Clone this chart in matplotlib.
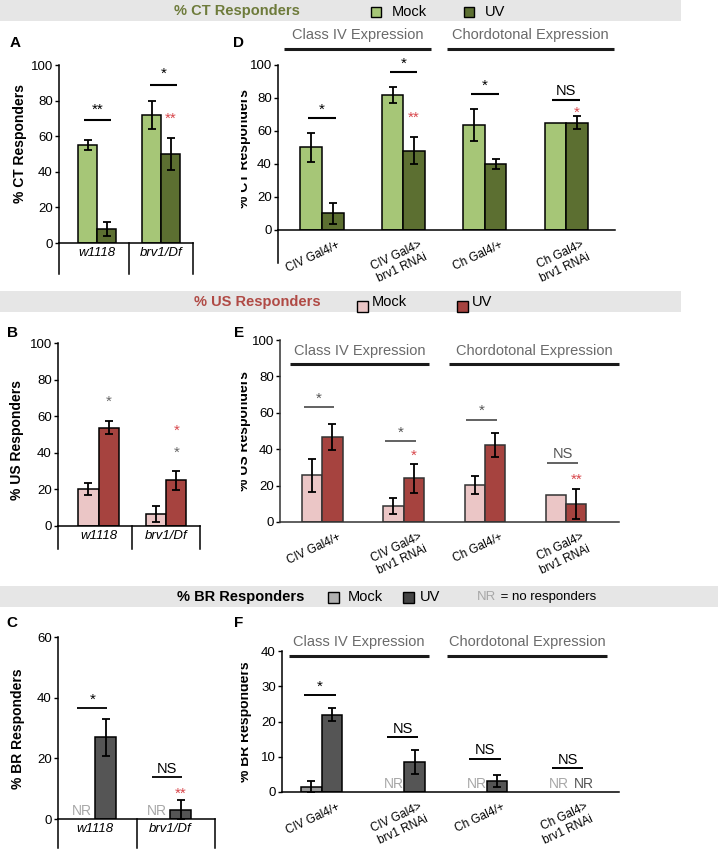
import numpy as np
import matplotlib.pyplot as plt
from matplotlib.patches import Rectangle
from matplotlib.transforms import ScaledTranslation, Bbox, TransformedBbox

plt.rcParams['font.family'] = ['Liberation Sans', 'DejaVu Sans']

W, H = 718, 849

# ── data ──────────────────────────────────────────────────────────────────────
geno = ["w1118", "brv1/Df"]
gal4 = ["CIV Gal4/+", "CIV Gal4>\nbrv1 RNAi", "Ch Gal4/+", "Ch Gal4>\nbrv1 RNAi"]
expr_groups = ["Class IV Expression", "Chordotonal Expression"]

# A: % CT, genotype
ct_geno_mock = [55, 72];      ct_geno_mock_err = [3, 8]
ct_geno_uv = [8, 50];         ct_geno_uv_err = [4, 9]
ct_geno_sig = ["**", "*"];    ct_geno_sig_y = [69, 89]
ct_geno_red = ["", "**"];     ct_geno_red_y = [np.nan, 72]

# B: % US, genotype
us_geno_mock = [20, 6.5];     us_geno_mock_err = [3.3, 4.3]
us_geno_uv = [53.8, 25];      us_geno_uv_err = [3.5, 5.1]
us_geno_star = ["*", "*"];    us_geno_star_y = [70, 41.8]
us_geno_red = ["", "*"];      us_geno_red_y = [np.nan, 54]

# C: % BR, genotype (nan = no responders)
br_geno_mock = [np.nan, np.nan]; br_geno_mock_err = [0, 0]
br_geno_uv = [26.9, 3.1];     br_geno_uv_err = [6, 3.3]
br_geno_sig = ["*", "NS"];    br_geno_sig_y = [36.7, 13.8]
br_geno_red = ["", "**"];     br_geno_red_y = [np.nan, 9.6]

# D: % CT, Gal4 / RNAi
ct_rnai_mock = [50, 81.6, 63.4, 65];   ct_rnai_mock_err = [9, 4.8, 9.7, 0]
ct_rnai_uv = [10, 48, 40, 65];         ct_rnai_uv_err = [6.6, 8.3, 3.2, 4]
ct_rnai_sig = ["*", "*", "*", "NS"];   ct_rnai_sig_y = [68, 95.5, 82.6, 79]
ct_rnai_red = ["", "**", "", "*"];     ct_rnai_red_y = [np.nan, 70, np.nan, 73]

# E: % US, Gal4 / RNAi
us_rnai_mock = [25.7, 8.8, 20.4, 14.7]; us_rnai_mock_err = [9.1, 4.4, 4.9, 0]
us_rnai_uv = [46.8, 24, 42.2, 9.9];     us_rnai_uv_err = [7, 8, 6.6, 8]
us_rnai_sig = ["*", "*", "*", "NS"];    us_rnai_sig_y = [63.3, 44.6, 56.3, 32.5]
us_rnai_red = ["", "*", "", "**"];      us_rnai_red_y = [np.nan, 38.5, np.nan, 25]

# F: % BR, Gal4 / RNAi
br_rnai_mock = [1.4, np.nan, np.nan, np.nan]; br_rnai_mock_err = [1.7, 0, 0, 0]
br_rnai_uv = [21.9, 8.4, 3.2, np.nan];        br_rnai_uv_err = [1.8, 3.4, 1.7, 0]
br_rnai_sig = ["*", "NS", "NS", "NS"];        br_rnai_sig_y = [27.4, 15.5, 9.4, 6.8]

# ── colours ───────────────────────────────────────────────────────────────────
CT_MOCK, CT_UV = "#a6c677", "#5c6f31"
US_MOCK, US_UV = "#ebc6c6", "#a6433f"
BR_MOCK, BR_UV = "#9a9a9a", "#555555"
RED = "#d8474c"
NR_GRAY = "#a8a8a8"
BAND = "#e6e6e6"
HDR_GRAY = "#6a6a6a"

fig = plt.figure(figsize=(W / 100, H / 100), dpi=100)

# overlay in pixel coordinates for header bands, letters, y labels
ov = fig.add_axes([0, 0, 1, 1])
ov.set_xlim(0, W); ov.set_ylim(H, 0); ov.axis("off")


def px_axes(x0, ytop, x1, ybot):
    return fig.add_axes([x0 / W, 1 - ybot / H, (x1 - x0) / W, (ybot - ytop) / H])


def legend_square(x, y, s, color):
    ov.add_patch(Rectangle((x, y), s, s, facecolor=color, edgecolor="black", lw=1))


# band 1: CT
ov.add_patch(Rectangle((0, 0), 681, 21, color=BAND, lw=0))
ov.text(236.5, 11, "% CT Responders", ha="center", va="center",
        fontsize=10.5, fontweight="bold", color="#6e7b3b")
legend_square(371, 7, 10, CT_MOCK)
ov.text(392, 12, "Mock", va="center", fontsize=10.5)
legend_square(464, 7, 10, CT_UV)
ov.text(485, 12, "UV", va="center", fontsize=10.5)

# band 2: US
ov.add_patch(Rectangle((0, 291), 681, 21, color=BAND, lw=0))
ov.text(257, 302, "% US Responders", ha="center", va="center",
        fontsize=10.5, fontweight="bold", color="#b04a45")
legend_square(357, 301, 11, US_MOCK)
ov.text(372, 302, "Mock", va="center", fontsize=10.5)
legend_square(457, 301, 11, US_UV)
ov.text(472, 302, "UV", va="center", fontsize=10.5)

# band 3: BR
ov.add_patch(Rectangle((0, 586), W, 21, color=BAND, lw=0))
ov.text(241, 597, "% BR Responders", ha="center", va="center",
        fontsize=10.5, fontweight="bold", color="black")
legend_square(328, 592, 11, "#b0b0b0")
ov.text(348, 597, "Mock", va="center", fontsize=10.5)
legend_square(403, 592, 11, "#444444")
ov.text(420, 597, "UV", va="center", fontsize=10.5)
ov.text(477, 597, "NR", va="center", fontsize=9.5, color=NR_GRAY)
ov.text(497, 597, " = no responders", va="center", fontsize=9.5)

# panel letters & y labels (right-column labels are cut by the panel edge)
for lx, ly, let in [(15, 43, "A"), (239, 43, "D"), (12, 333, "B"),
                    (239, 333, "E"), (12, 623, "C"), (239, 623, "F")]:
    ov.text(lx, ly, let, ha="center", va="center", fontsize=11, fontweight="bold")
for lx, ly, lab in [(20, 143, "% CT Responders"), (17.5, 440, "% US Responders"),
                    (18, 729, "% BR Responders")]:
    ov.text(lx, ly, lab, ha="center", va="center", rotation=90,
            fontsize=10, fontweight="bold")
cut = TransformedBbox(Bbox([[241 / W, 0], [1, 1]]), fig.transFigure)
for lx, ly, lab in [(244, 148, "% CT Responders"), (244, 431, "% US Responders"),
                    (245, 722, "% BR Responders")]:
    t = ov.text(lx, ly, lab, ha="center", va="center", rotation=90,
                fontsize=10, fontweight="bold", clip_on=True)
    t.set_clip_box(cut)


def style(ax, ylim, yticks, fs):
    ax.set_ylim(*ylim)
    ax.set_yticks(yticks)
    for s in ("top", "right"):
        ax.spines[s].set_visible(False)
    ax.spines["left"].set_linewidth(1.1)
    ax.spines["bottom"].set_linewidth(1.1)
    ax.tick_params(axis="y", length=3, width=1, pad=1.5, labelsize=fs)
    ax.tick_params(axis="x", length=0)
    ax.patch.set_alpha(0)


def draw_bars(ax, x, mock, mock_err, uv, uv_err, c_mock, c_uv, w, edge="black"):
    x = np.asarray(x, float)
    for xs, v, e, c in ((x - w / 2, mock, mock_err, c_mock), (x + w / 2, uv, uv_err, c_uv)):
        v = np.asarray(v, float); e = np.asarray(e, float)
        ok = ~np.isnan(v)
        ax.bar(xs[ok], v[ok], w, color=c, edgecolor=edge, lw=1.1, zorder=2)
        m = ok & (e > 0)
        ax.errorbar(xs[m], v[m], yerr=e[m], fmt="none", ecolor="black",
                    elinewidth=1.3, capsize=3, capthick=1.3, zorder=3)


def sig(ax, xc, half, y, label, color="black", lw=1.5, pad=1.0):
    if not label:
        return
    fs = 11 if "*" in label else 10.5
    ax.plot([xc - half, xc + half], [y, y], color=color, lw=lw,
            solid_capstyle="butt", clip_on=False)
    ax.annotate(label, (xc, y), xytext=(0, pad), textcoords="offset points",
                ha="center", va="bottom", fontsize=fs, color=color,
                annotation_clip=False)


def star(ax, x, y, label, color):
    if not label or np.isnan(y):
        return
    ax.annotate(label, (x, y), xytext=(0, -2.5), textcoords="offset points",
                ha="center", va="center", fontsize=11, color=color,
                annotation_clip=False)


def nr(ax, x, color=NR_GRAY):
    ax.annotate("NR", (x, 0), xytext=(0, 0.5), textcoords="offset points",
                ha="center", va="bottom", fontsize=10, color=color)


def table(ax, xs, ybot):
    for xv in xs:
        ax.plot([xv, xv], [0, ybot], color="black", lw=1.1, clip_on=False)


def geno_labels(ax, x):
    ax.set_xticks(x)
    ax.set_xticklabels(geno, fontstyle="italic", fontsize=9.5)
    ax.tick_params(axis="x", pad=3)


def gal4_labels(ax, x):
    ax.set_xticks(x)
    ax.set_xticklabels(gal4, rotation=25, ha="right", va="top",
                       rotation_mode="anchor", fontsize=8.5, linespacing=1.15)
    ax.tick_params(axis="x", pad=0)
    off = ScaledTranslation(15 / 100, -9 / 100, fig.dpi_scale_trans)
    for t in ax.get_xticklabels():
        t.set_transform(t.get_transform() + off)


def expr_headers(ax, spans, text_y, line_y):
    for (x0, x1), lab in zip(spans, expr_groups):
        ax.plot([x0, x1], [line_y, line_y], color="#1a1a1a", lw=2.2,
                solid_capstyle="butt", clip_on=False)
        ax.text((x0 + x1) / 2, text_y, lab, ha="center", va="center",
                fontsize=10.5, color=HDR_GRAY, clip_on=False)


xg = np.arange(len(geno))
xr = np.arange(len(gal4))

# ── A ─────────────────────────────────────────────────────────────────────────
axA = px_axes(59, 65, 193, 243)
style(axA, (0, 100), range(0, 101, 20), 9.5)
axA.set_xlim(-0.6, 1.5)
w = 0.3
draw_bars(axA, xg, ct_geno_mock, ct_geno_mock_err, ct_geno_uv, ct_geno_uv_err,
          CT_MOCK, CT_UV, w)
for i in range(len(geno)):
    sig(axA, xg[i] + 0.04 * i, 0.21, ct_geno_sig_y[i], ct_geno_sig[i], pad=2.5)
    star(axA, xg[i] + w / 2, ct_geno_red_y[i], ct_geno_red[i], RED)
table(axA, [-0.6, 0.5, 1.5], -17.4)
geno_labels(axA, xg)

# ── B ─────────────────────────────────────────────────────────────────────────
axB = px_axes(58, 343, 200, 526)
style(axB, (0, 100), range(0, 101, 20), 9.5)
axB.set_xlim(-0.6, 1.5)
draw_bars(axB, xg, us_geno_mock, us_geno_mock_err, us_geno_uv, us_geno_uv_err,
          US_MOCK, US_UV, w)
for i in range(len(geno)):
    star(axB, xg[i] + w / 2, us_geno_star_y[i], us_geno_star[i], "#666666")
    star(axB, xg[i] + w / 2, us_geno_red_y[i], us_geno_red[i], RED)
table(axB, [-0.6, 0.5, 1.5], -12.6)
geno_labels(axB, xg)

# ── C ─────────────────────────────────────────────────────────────────────────
axC = px_axes(58, 637, 215, 819)
style(axC, (0, 60), range(0, 61, 20), 9.5)
axC.set_xlim(-0.5, 1.6)
wc = 0.28
draw_bars(axC, xg, br_geno_mock, br_geno_mock_err, br_geno_uv, br_geno_uv_err,
          BR_MOCK, BR_UV, wc)
for i in range(len(geno)):
    if np.isnan(br_geno_mock[i]):
        nr(axC, xg[i] - wc / 2 - 0.04)
    sig(axC, xg[i] - 0.04, 0.2, br_geno_sig_y[i], br_geno_sig[i], lw=1.3)
    star(axC, xg[i] + wc / 2, br_geno_red_y[i], br_geno_red[i], RED)
table(axC, [-0.5, 0.55, 1.6], -9.5)
geno_labels(axC, xg)

# ── D ─────────────────────────────────────────────────────────────────────────
axD = px_axes(278, 65, 615, 230)
style(axD, (0, 100), range(0, 101, 20), 9.5)
axD.set_xlim(-0.54, 3.60)
wd = 0.265
draw_bars(axD, xr, ct_rnai_mock, ct_rnai_mock_err, ct_rnai_uv, ct_rnai_uv_err,
          CT_MOCK, CT_UV, wd)
for i in range(len(gal4)):
    sig(axD, xr[i], 0.17, ct_rnai_sig_y[i], ct_rnai_sig[i])
    star(axD, xr[i] + wd / 2, ct_rnai_red_y[i], ct_rnai_red[i], RED)
axD.plot([-0.54, -0.54], [0, -20], color="black", lw=1.1, clip_on=False)
expr_headers(axD, [(-0.47, 1.34), (1.54, 3.59)], 118, 109.7)
gal4_labels(axD, xr)

# ── E ─────────────────────────────────────────────────────────────────────────
axE = px_axes(280, 340, 619, 522)
style(axE, (0, 100), range(0, 101, 20), 9.5)
axE.set_xlim(-0.52, 3.65)
for s in ("left", "bottom"):
    axE.spines[s].set_color("#333333")
we = 0.25
draw_bars(axE, xr, us_rnai_mock, us_rnai_mock_err, us_rnai_uv, us_rnai_uv_err,
          US_MOCK, US_UV, we, edge="#333333")
for i in range(len(gal4)):
    sig(axE, xr[i] - 0.04, 0.19, us_rnai_sig_y[i], us_rnai_sig[i],
        color="#555555", lw=1.3)
    star(axE, xr[i] + we / 2, us_rnai_red_y[i], us_rnai_red[i], RED)
expr_headers(axE, [(-0.40, 1.31), (1.56, 3.65)], 94, 86.8)
gal4_labels(axE, xr)

# ── F ─────────────────────────────────────────────────────────────────────────
axF = px_axes(282, 651, 619, 792)
style(axF, (0, 40), range(0, 41, 10), 9.5)
axF.set_xlim(-0.48, 3.6)
wf = 0.25
draw_bars(axF, xr, br_rnai_mock, br_rnai_mock_err, br_rnai_uv, br_rnai_uv_err,
          BR_MOCK, BR_UV, wf)
for i in range(len(gal4)):
    if np.isnan(br_rnai_mock[i]):
        nr(axF, xr[i] - wf / 2)
    if np.isnan(br_rnai_uv[i]):
        nr(axF, xr[i] + wf / 2 + 0.05, color="#555555")
    sig(axF, xr[i] - 0.02, 0.19, br_rnai_sig_y[i], br_rnai_sig[i], lw=1.4)
expr_headers(axF, [(-0.39, 1.30), (1.52, 3.45)], 42.6, 38.6)
gal4_labels(axF, xr)

fig.savefig("out.png", dpi=100)
